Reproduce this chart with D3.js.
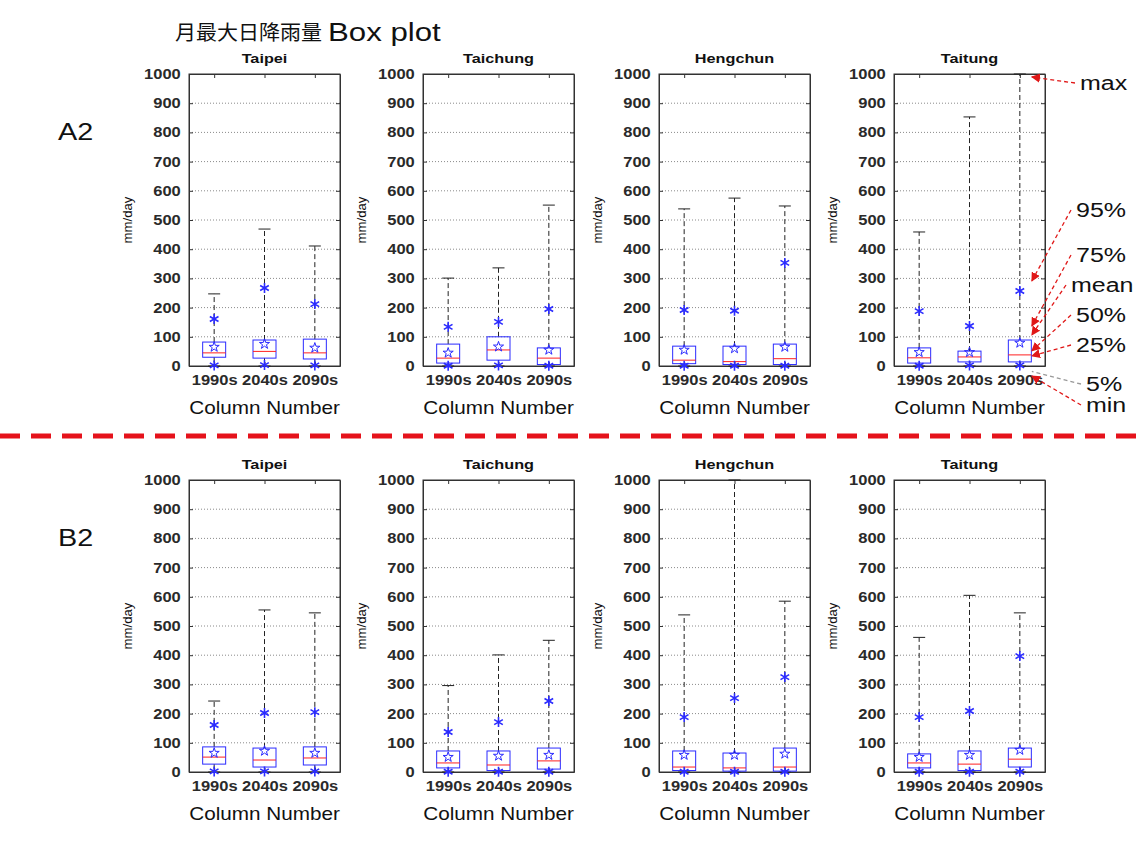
<!DOCTYPE html>
<html>
<head>
<meta charset="utf-8">
<script src="https://cdn.jsdelivr.net/npm/d3@7"></script>
<style>
  body { margin: 0; background: #fff; }
</style>
</head>
<body>
<div id="chart"></div>
<script>
// ---- data (mm/day) ----
const stations = ["Taipei", "Taichung", "Hengchun", "Taitung"];
const periods = ["1990s", "2040s", "2090s"];
const scenarios = ["A2", "B2"];
const yTicks = [0, 100, 200, 300, 400, 500, 600, 700, 800, 900, 1000];

// A2 scenario, one row per station, one value per period
const a2Max  = [[247, 469, 411], [301, 336, 551], [538, 575, 548], [459, 853, 1000]];
const a2P95  = [[161, 267, 212], [134, 151, 195], [192, 189, 353], [188, 137, 257]];
const a2P75  = [[82, 89, 92], [75, 100, 62], [68, 68, 75], [62, 51, 89]];
const a2Mean = [[65, 75, 62], [45, 66, 55], [55, 60, 65], [47, 47, 79]];
const a2P50  = [[45, 50, 45], [27, 55, 27], [20, 15, 25], [28, 31, 38]];
const a2P25  = [[30, 27, 24], [10, 20, 5], [8, 5, 5], [10, 14, 14]];
const a2P5   = [[2, 3, 2], [1, 2, 1], [1, 1, 1], [1, 2, 2]];
const a2Min  = [[0, 0, 0], [0, 0, 0], [0, 0, 0], [0, 0, 0]];

// B2 scenario
const b2Max  = [[243, 555, 545], [296, 401, 451], [538, 1000, 585], [461, 605, 545]];
const b2P95  = [[161, 202, 205], [137, 171, 243], [188, 253, 325], [188, 209, 397]];
const b2P75  = [[86, 82, 86], [72, 72, 82], [72, 65, 82], [62, 72, 82]];
const b2Mean = [[65, 72, 65], [51, 55, 58], [58, 58, 62], [51, 58, 75]];
const b2P50  = [[51, 41, 48], [31, 24, 38], [17, 14, 17], [31, 27, 44]];
const b2P25  = [[27, 17, 24], [14, 5, 10], [5, 3, 3], [14, 5, 17]];
const b2P5   = [[2, 2, 2], [1, 1, 1], [1, 1, 1], [1, 1, 1]];
const b2Min  = [[0, 0, 0], [0, 0, 0], [0, 0, 0], [0, 0, 0]];

// legend labels for the explained box (A2, Taitung, 2090s)
const legendKeys = ["max", "p95", "p75", "mean", "p50", "p25", "p5", "min"];
const legendText = ["max", "95%", "75%", "mean", "50%", "25%", "5%", "min"];

// ---- build table ----
const source = {
    A2: { min: a2Min, p5: a2P5, p25: a2P25, p50: a2P50, mean: a2Mean, p75: a2P75, p95: a2P95, max: a2Max },
    B2: { min: b2Min, p5: b2P5, p25: b2P25, p50: b2P50, mean: b2Mean, p75: b2P75, p95: b2P95, max: b2Max }
};
const table = [];
scenarios.forEach((sc, r) => {
    stations.forEach((st, i) => {
        periods.forEach((p, j) => {
            const row = { scenario: sc, row: r, station: st, col: i, period: p };
            Object.keys(source[sc]).forEach(k => row[k] = source[sc][k][i][j]);
            table.push(row);
        });
    });
});

// ---- layout ----
const W = 1140, H = 854;
const panelLeft = [189, 423, 659, 894];
const rowTop = [74, 480];
const pw = 151, ph = 292;
const boxW = 23, capW = 12;
const FONT = "'Liberation Sans', Arial, sans-serif";

const svg = d3.select('#chart')
    .append('svg')
    .attr('width', W)
    .attr('height', H)
    .style('font-family', FONT);

svg.append('rect').attr('width', W).attr('height', H).attr('fill', '#fff');

// text stretched horizontally like the scanned original
function label(parent, x, y, txt, size, sx, opts = {}) {
    return parent.append('text')
        .attr('transform', `translate(${x},${y}) ${opts.rotate ? 'rotate(' + opts.rotate + ')' : ''} scale(${sx},1)`)
        .attr('text-anchor', opts.anchor || 'start')
        .style('font-size', size + 'px')
        .style('font-weight', opts.weight || 'normal')
        .style('font-family', opts.family || FONT)
        .attr('fill', opts.fill || '#111')
        .text(txt);
}

const x = d3.scalePoint().domain(periods).range([0, pw]).padding(0.5);
const y = d3.scaleLinear().domain([0, 1000]).range([ph, 0]);

const star = d3.symbol().type(d3.symbolStar).size(32);
const asterisk = d3.symbol().type(d3.symbolAsterisk || d3.symbolCross).size(70);

scenarios.forEach((sc, r) => {
    stations.forEach((st, i) => {
        const g = svg.append('g')
            .attr('transform', `translate(${panelLeft[i]},${rowTop[r]})`);

        // dotted grid
        g.selectAll('.grid')
            .data(yTicks.filter(t => t > 0 && t < 1000))
            .enter()
            .append('line')
            .attr('x1', 0).attr('x2', pw)
            .attr('y1', d => y(d)).attr('y2', d => y(d))
            .attr('stroke', '#8a8a8a')
            .attr('stroke-width', 1)
            .attr('stroke-dasharray', '1,2');

        // axes with inward ticks on all sides
        const left = g.append('g').call(d3.axisLeft(y).tickValues(yTicks).tickFormat(d3.format('d'))
            .tickSizeInner(-4).tickSizeOuter(0).tickPadding(7));
        left.selectAll('text')
            .attr('transform', 'scale(1.18,1)')
            .style('font-size', '14px').style('font-weight', 'bold').style('font-family', FONT).attr('fill', '#2a2a2a');
        g.append('g').attr('transform', `translate(${pw},0)`)
            .call(d3.axisRight(y).tickValues(yTicks).tickSizeInner(-4).tickSizeOuter(0).tickFormat(''));
        const bottom = g.append('g').attr('transform', `translate(0,${ph})`)
            .call(d3.axisBottom(x).tickSizeInner(-4).tickSizeOuter(0).tickPadding(9));
        bottom.selectAll('text')
            .attr('transform', 'scale(1.18,1)')
            .style('font-size', '14px').style('font-weight', 'bold').style('font-family', FONT).attr('fill', '#2a2a2a');
        g.append('g').call(d3.axisTop(x).tickSizeInner(-4).tickSizeOuter(0).tickFormat(''));
        g.selectAll('.domain').attr('stroke', '#333');
        g.selectAll('.tick line').attr('stroke', '#333');
        g.append('rect')
            .attr('width', pw).attr('height', ph)
            .attr('fill', 'none').attr('stroke', '#333').attr('stroke-width', 1);

        // titles
        label(g, pw / 2, -11, st, 13, 1.25, { anchor: 'middle', weight: 'bold' });
        label(g, pw / 2, ph + 48, 'Column Number', 18, 1.15, { anchor: 'middle' });
        label(g, -57, ph / 2, 'mm/day', 12, 1.1, { anchor: 'middle', rotate: -90 });

        // boxes
        const rows = table.filter(d => d.scenario === sc && d.station === st);
        const bx = g.selectAll('.bx')
            .data(rows)
            .enter()
            .append('g')
            .attr('transform', d => `translate(${x(d.period)},0)`);

        bx.append('line')
            .attr('y1', d => y(d.p75)).attr('y2', d => y(d.max))
            .attr('stroke', '#222').attr('stroke-dasharray', '5,3');
        bx.append('line')
            .attr('y1', d => y(d.p25)).attr('y2', d => y(d.min))
            .attr('stroke', '#222').attr('stroke-dasharray', '5,3');
        bx.append('line')
            .attr('x1', -capW / 2).attr('x2', capW / 2)
            .attr('y1', d => y(d.max)).attr('y2', d => y(d.max))
            .attr('stroke', '#222');
        bx.append('line')
            .attr('x1', -capW / 2).attr('x2', capW / 2)
            .attr('y1', d => y(d.min)).attr('y2', d => y(d.min))
            .attr('stroke', '#222');
        bx.append('rect')
            .attr('x', -boxW / 2)
            .attr('width', boxW)
            .attr('y', d => y(d.p75))
            .attr('height', d => y(d.p25) - y(d.p75))
            .attr('fill', 'none')
            .attr('stroke', '#2b2bff')
            .attr('stroke-width', 1);
        bx.append('line')
            .attr('x1', -boxW / 2).attr('x2', boxW / 2)
            .attr('y1', d => y(d.p50)).attr('y2', d => y(d.p50))
            .attr('stroke', '#ff2020');
        bx.append('path')
            .attr('d', star)
            .attr('transform', d => `translate(0,${y(d.mean)})`)
            .attr('fill', 'none').attr('stroke', '#2b2bff').attr('stroke-width', 1);
        ['p95', 'p5'].forEach(k => {
            bx.append('path')
                .attr('d', asterisk)
                .attr('transform', d => `translate(0,${y(d[k])})`)
                .attr('fill', 'none').attr('stroke', '#2b2bff').attr('stroke-width', 1.6);
        });
    });

    label(svg, 58, rowTop[r] + 66, sc, 24, 1.2);
});

// main title
label(svg, 175, 40, '月最大日降雨量', 20, 1.05, { family: "'Noto Sans CJK TC', 'Noto Sans CJK SC', sans-serif" });
label(svg, 328, 41, 'Box plot', 26, 1.2);

// red dashed separator
svg.append('line')
    .attr('x1', 0).attr('x2', W)
    .attr('y1', 436).attr('y2', 436)
    .attr('stroke', '#e5121b')
    .attr('stroke-width', 5)
    .attr('stroke-dasharray', '20,11');

// annotation of the explained box
svg.append('defs').append('marker')
    .attr('id', 'arr')
    .attr('viewBox', '0 0 10 10')
    .attr('refX', 9).attr('refY', 5)
    .attr('markerWidth', 7).attr('markerHeight', 7)
    .attr('orient', 'auto')
    .append('path').attr('d', 'M0,0L10,5L0,10z').attr('fill', '#e01818');

const ex = table.find(d => d.scenario === 'A2' && d.station === 'Taitung' && d.period === '2090s');
const exX = panelLeft[3] + x(ex.period);
const exY0 = rowTop[0];
const labelPos = [[1080, 90], [1076, 217], [1076, 262], [1071, 292], [1076, 322], [1076, 352], [1086, 391], [1086, 412]];
const targetDy = [3, -10, -14, -8, -4, -6, 6, 10];
const ann = svg.append('g');
legendKeys.forEach((k, n) => {
    const [lx, ly] = labelPos[n];
    ann.append('line')
        .attr('x1', lx - 5).attr('y1', ly - 7)
        .attr('x2', exX + 12).attr('y2', exY0 + y(ex[k]) + targetDy[n])
        .attr('stroke', k === 'p5' ? '#999' : '#e01818')
        .attr('stroke-width', 1.3)
        .attr('stroke-dasharray', '4,3')
        .attr('marker-end', k === 'p5' ? null : 'url(#arr)');
    label(ann, lx, ly, legendText[n], 20, 1.25);
});
</script>
</body>
</html>
